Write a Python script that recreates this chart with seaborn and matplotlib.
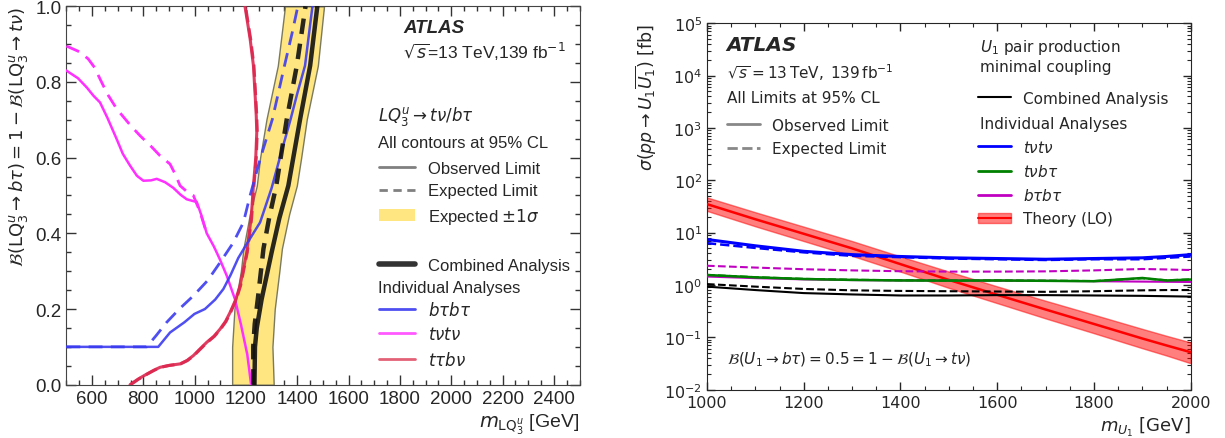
import matplotlib
matplotlib.use("Agg")
import matplotlib.pyplot as plt
from matplotlib.lines import Line2D
from matplotlib.patches import Patch
from matplotlib.ticker import MultipleLocator
import numpy as np
import pandas as pd
import seaborn as sns

# ---- left panel: LQ3u exclusion contours (x = mass [GeV], y = branching ratio)
btbt_obs_x = [500, 858, 904, 960, 999, 1040, 1080, 1112, 1140, 1170, 1210, 1255, 1300, 1340, 1374, 1400, 1430, 1459]
btbt_obs_y = [0.1, 0.1, 0.138, 0.165, 0.187, 0.2, 0.225, 0.253, 0.29, 0.335, 0.38, 0.429, 0.52, 0.62, 0.702, 0.77, 0.843, 1.0]
btbt_exp_x = [500, 813, 850, 891, 940, 995, 1050, 1099, 1150, 1190, 1216, 1255, 1303, 1350, 1380, 1402]
btbt_exp_y = [0.1, 0.1, 0.13, 0.165, 0.2, 0.235, 0.275, 0.323, 0.375, 0.429, 0.5, 0.596, 0.702, 0.843, 0.93, 1.0]

tvtv_obs_x = [500, 545, 580, 605, 631, 660, 696, 720, 748, 775, 800, 830, 852, 885, 917, 945, 969, 990, 1008, 1025, 1047, 1075, 1099, 1125, 1157, 1180, 1205, 1220]
tvtv_obs_y = [0.83, 0.81, 0.785, 0.764, 0.746, 0.705, 0.649, 0.61, 0.579, 0.552, 0.539, 0.54, 0.544, 0.535, 0.52, 0.502, 0.49, 0.486, 0.483, 0.45, 0.40, 0.365, 0.33, 0.288, 0.226, 0.16, 0.08, 0.0]
tvtv_exp_x = [500, 550, 585, 610, 631, 660, 696, 750, 787, 830, 865, 904, 925, 943, 970, 995, 1021, 1047]
tvtv_exp_y = [0.895, 0.88, 0.861, 0.838, 0.808, 0.768, 0.729, 0.685, 0.658, 0.63, 0.605, 0.583, 0.555, 0.526, 0.51, 0.50, 0.456, 0.40]

ttbv_obs_x = [748, 780, 813, 840, 865, 900, 943, 970, 995, 1020, 1047, 1075, 1099, 1120, 1138, 1160, 1177, 1203, 1220, 1229, 1238, 1242, 1240, 1236, 1229, 1216, 1196]
ttbv_obs_y = [0.0, 0.015, 0.028, 0.038, 0.046, 0.051, 0.055, 0.064, 0.077, 0.094, 0.112, 0.128, 0.147, 0.167, 0.191, 0.225, 0.262, 0.35, 0.44, 0.526, 0.6, 0.667, 0.71, 0.76, 0.843, 0.914, 1.0]
ttbv_exp_x = [750, 782, 815, 842, 867, 902, 945, 972, 997, 1022, 1049, 1077, 1101, 1122, 1140, 1162, 1179, 1205, 1222, 1231, 1240, 1244, 1242, 1238, 1231, 1218, 1198]
ttbv_exp_y = ttbv_obs_y

comb_obs_x = [1233, 1235, 1242, 1261, 1300, 1330, 1365, 1411, 1450, 1478]
comb_obs_y = [0.0, 0.1, 0.15, 0.226, 0.35, 0.44, 0.526, 0.702, 0.843, 1.0]
comb_exp_x = [1229, 1228, 1234, 1246, 1268, 1290, 1318, 1359, 1398, 1432]
comb_exp_y = [0.0, 0.1, 0.16, 0.226, 0.359, 0.44, 0.526, 0.702, 0.843, 1.0]

band_y = [0.0, 0.1, 0.2, 0.3, 0.36, 0.45, 0.526, 0.6, 0.702, 0.843, 1.0]
band_lo = [1146, 1146, 1155, 1180, 1190, 1215, 1242, 1255, 1280, 1324, 1352]
band_hi = [1308, 1303, 1312, 1330, 1340, 1368, 1398, 1415, 1437, 1480, 1504]

# ---- right panel: U1 cross-section limits [fb]
m_u1 = [1000, 1100, 1200, 1300, 1400, 1500, 1600, 1700, 1800, 1900, 1950, 2000]
comb_lim_obs = [0.93, 0.80, 0.70, 0.66, 0.63, 0.63, 0.64, 0.64, 0.63, 0.62, 0.61, 0.60]
comb_lim_exp = [1.04, 0.93, 0.84, 0.79, 0.77, 0.76, 0.75, 0.74, 0.76, 0.79, 0.80, 0.80]
tvtv_lim_obs = [7.4, 5.6, 4.4, 3.8, 3.5, 3.3, 3.2, 3.1, 3.2, 3.3, 3.5, 3.8]
tvtv_lim_exp = [6.3, 5.1, 4.2, 3.6, 3.4, 3.2, 3.1, 3.0, 3.1, 3.1, 3.3, 3.5]
tvbt_lim_obs = [1.55, 1.40, 1.30, 1.25, 1.22, 1.21, 1.22, 1.20, 1.18, 1.36, 1.22, 1.27]
tvbt_lim_exp = [1.56, 1.41, 1.31, 1.26, 1.23, 1.22, 1.22, 1.21, 1.19, 1.34, 1.23, 1.28]
btbt_lim_obs = [1.45, 1.35, 1.28, 1.24, 1.22, 1.22, 1.21, 1.20, 1.18, 1.16, 1.15, 1.14]
btbt_lim_exp = [2.33, 2.15, 2.00, 1.90, 1.83, 1.80, 1.80, 1.82, 1.90, 2.02, 1.98, 1.93]
theory = [35, 18, 9.5, 5.0, 2.5, 1.25, 0.65, 0.34, 0.18, 0.095, 0.07, 0.052]
theory_up = [47, 24.5, 13, 6.9, 3.5, 1.8, 0.94, 0.5, 0.27, 0.145, 0.107, 0.08]
theory_dn = [26, 13.2, 6.9, 3.6, 1.8, 0.88, 0.45, 0.23, 0.12, 0.062, 0.045, 0.032]

sns.set_style("ticks")
plt.rcParams["font.family"] = ["DejaVu Sans"]
plt.rcParams["mathtext.fontset"] = "dejavusans"

fig = plt.figure(figsize=(12.25, 4.39), dpi=100)
axl = fig.add_axes([0.0542, 0.1214, 0.4189, 0.862])
axr = fig.add_axes([0.5771, 0.110, 0.3949, 0.835])

BLUE, MAG, RED = "#3c3cf0", "#ff30ff", "#dc2850"
HELV = "Liberation Sans"

# ---------------- left
axl.fill_betweenx(band_y, band_lo, band_hi, facecolor="#ffe680", edgecolor="#7a7a60", lw=1.0, zorder=1)


def curve(ax, x, y, **kw):
    df = pd.DataFrame({"x": x, "y": y})
    sns.lineplot(data=df, x="x", y="y", sort=False, estimator=None, ax=ax, **kw)


curve(axl, tvtv_exp_x, tvtv_exp_y, color=MAG, lw=2, linestyle=(0, (5, 3)), zorder=3)
curve(axl, tvtv_obs_x, tvtv_obs_y, color=MAG, lw=1.8, zorder=3)
curve(axl, btbt_exp_x, btbt_exp_y, color=BLUE, lw=2, linestyle=(0, (5, 3)), alpha=0.9, zorder=4)
curve(axl, btbt_obs_x, btbt_obs_y, color=BLUE, lw=1.8, alpha=0.9, zorder=4)
curve(axl, ttbv_obs_x, ttbv_obs_y, color=RED, lw=2.2, alpha=0.9, zorder=3)
curve(axl, ttbv_exp_x, ttbv_exp_y, color=RED, lw=2.2, linestyle=(0, (4, 2)), alpha=0.9, zorder=3)
curve(axl, comb_exp_x, comb_exp_y, color="#111111", lw=3.2, linestyle=(0, (3.5, 2.2)), alpha=0.9, zorder=5)
curve(axl, comb_obs_x, comb_obs_y, color="#111111", lw=3.2, alpha=0.9, zorder=5)

axl.set_xlim(500, 2500)
axl.set_ylim(0, 1)
axl.xaxis.set_major_locator(MultipleLocator(200))
axl.xaxis.set_minor_locator(MultipleLocator(50))
axl.yaxis.set_major_locator(MultipleLocator(0.2))
axl.yaxis.set_minor_locator(MultipleLocator(0.05))
axl.xaxis.set_major_formatter(lambda v, _: f"{v:.0f}")
axl.yaxis.set_major_formatter(lambda v, _: f"{v:.1f}")
axl.tick_params(which="both", direction="in", top=True, right=True, labelsize=13.5,
                labelfontfamily=HELV, color="#333333")
axl.tick_params(which="major", length=7, width=1)
axl.tick_params(which="minor", length=3.5, width=1)
for s in axl.spines.values():
    s.set_color("#444444")
axl.set_xlabel(r"$m_{\mathrm{LQ}_3^u}$ [GeV]", loc="right", fontsize=14, family=HELV)
axl.set_ylabel(r"$\mathcal{B}(\mathrm{LQ}_3^u \to b\tau) = 1 - \mathcal{B}(\mathrm{LQ}_3^u \to t\nu)$",
               loc="top", fontsize=13, family=HELV)

axl.text(0.656, 0.943, "ATLAS", transform=axl.transAxes, fontsize=13.5, family=HELV,
         weight="bold", style="italic", va="center")
axl.text(0.656, 0.882, r"$\sqrt{s}$=13 TeV,139 fb$^{-1}$", transform=axl.transAxes,
         fontsize=12.5, family=HELV, va="center")
axl.text(0.607, 0.7125, r"$LQ_3^u \to t\nu/b\tau$", transform=axl.transAxes, fontsize=12, va="center")
axl.text(0.607, 0.641, "All contours at 95% CL", transform=axl.transAxes, fontsize=12,
         family=HELV, va="center")
axl.text(0.607, 0.258, "Individual Analyses", transform=axl.transAxes, fontsize=12,
         family=HELV, va="center")

lkw = dict(frameon=False, loc="upper left", borderpad=0, borderaxespad=0, handlelength=2.16,
           handletextpad=0.78, labelspacing=0.44, prop={"family": HELV, "size": 12})
legA = axl.legend([Line2D([], [], color="#808080", lw=2),
                   Line2D([], [], color="#808080", lw=2, ls=(0, (3, 2))),
                   Patch(facecolor="#ffe680", edgecolor="none")],
                  ["Observed Limit", "Expected Limit", r"Expected $\pm 1\sigma$"],
                  bbox_to_anchor=(0.609, 0.591), **lkw)
axl.add_artist(legA)
legB = axl.legend([Line2D([], [], color="#333333", lw=4)], ["Combined Analysis"],
                  bbox_to_anchor=(0.609, 0.335), **lkw)
axl.add_artist(legB)
axl.legend([Line2D([], [], color=BLUE, lw=2, alpha=0.9), Line2D([], [], color=MAG, lw=2, alpha=0.8),
            Line2D([], [], color="#e05068", lw=2, alpha=0.9)],
           [r"$b\tau b\tau$", r"$t\nu t\nu$", r"$t\tau b\nu$"],
           bbox_to_anchor=(0.609, 0.224), **lkw)

# ---------------- right
axr.fill_between(m_u1, theory_dn, theory_up, facecolor="#ff0000", alpha=0.5, edgecolor="#ff0000", lw=1, zorder=2)
curve(axr, m_u1, theory, color="#ff0000", lw=1.8, zorder=3)
curve(axr, m_u1, btbt_lim_exp, color="#c000c0", lw=1.5, linestyle="--", zorder=4)
curve(axr, m_u1, btbt_lim_obs, color="#c000c0", lw=1.5, zorder=4)
curve(axr, m_u1, tvbt_lim_exp, color="green", lw=1.5, linestyle="--", zorder=4)
curve(axr, m_u1, tvbt_lim_obs, color="green", lw=1.8, zorder=4)
curve(axr, m_u1, tvtv_lim_exp, color="#0000ff", lw=1.8, linestyle="--", zorder=4)
curve(axr, m_u1, tvtv_lim_obs, color="#0000ff", lw=2.2, zorder=4)
curve(axr, m_u1, comb_lim_exp, color="black", lw=1.5, linestyle="--", zorder=5)
curve(axr, m_u1, comb_lim_obs, color="black", lw=1.5, zorder=5)

axr.set_yscale("log")
axr.set_xlim(1000, 2000)
axr.set_ylim(1e-2, 1e5)
axr.xaxis.set_major_locator(MultipleLocator(200))
axr.xaxis.set_minor_locator(MultipleLocator(50))
axr.tick_params(which="both", direction="in", top=True, right=True, labelsize=11.5)
axr.tick_params(which="major", length=6, width=1)
axr.tick_params(which="minor", length=3, width=0.8)
axr.set_xlabel(r"$m_{U_1}$ [GeV]", loc="right", fontsize=13)
axr.set_ylabel(r"$\sigma(pp \to U_1\overline{U_1})$ [fb]", loc="top", fontsize=12.5)

axr.text(0.041, 0.943, "ATLAS", transform=axr.transAxes, fontsize=14.5, weight="bold",
         style="italic", va="center")
axr.text(0.041, 0.869, r"$\sqrt{s}=13\,\mathrm{TeV},\;139\,\mathrm{fb}^{-1}$", transform=axr.transAxes,
         fontsize=11, va="center")
axr.text(0.041, 0.798, "All Limits at 95% CL", transform=axr.transAxes, fontsize=11, va="center")
axr.text(0.564, 0.937, r"$U_1$ pair production", transform=axr.transAxes, fontsize=11, va="center")
axr.text(0.564, 0.883, "minimal coupling", transform=axr.transAxes, fontsize=11, va="center")
axr.text(0.564, 0.725, "Individual Analyses", transform=axr.transAxes, fontsize=11, va="center")
axr.text(0.041, 0.084, r"$\mathcal{B}(U_1 \to b\tau) = 0.5 = 1 - \mathcal{B}(U_1 \to t\nu)$",
         transform=axr.transAxes, fontsize=11, va="center")

rkw = dict(frameon=False, loc="upper left", borderpad=0, borderaxespad=0, handlelength=2.16,
           handletextpad=0.78, labelspacing=0.54, fontsize=11)
legRA = axr.legend([Line2D([], [], color="#888888", lw=2), Line2D([], [], color="#888888", lw=2, ls="--")],
                   ["Observed Limit", "Expected Limit"], bbox_to_anchor=(0.041, 0.742), **rkw)
axr.add_artist(legRA)
legRB = axr.legend([Line2D([], [], color="black", lw=1.5)], ["Combined Analysis"],
                   bbox_to_anchor=(0.560, 0.816), **rkw)
axr.add_artist(legRB)
axr.legend([Line2D([], [], color="#0000ff", lw=2), Line2D([], [], color="green", lw=2),
            Line2D([], [], color="#c000c0", lw=2),
            (Patch(facecolor="#ff0000", alpha=0.5, edgecolor="#ff0000"), Line2D([], [], color="#ff0000", lw=1.5))],
           [r"$t\nu t\nu$", r"$t\nu b\tau$", r"$b\tau b\tau$", "Theory (LO)"],
           bbox_to_anchor=(0.560, 0.685), **rkw)

fig.savefig("out.png", dpi=100)
